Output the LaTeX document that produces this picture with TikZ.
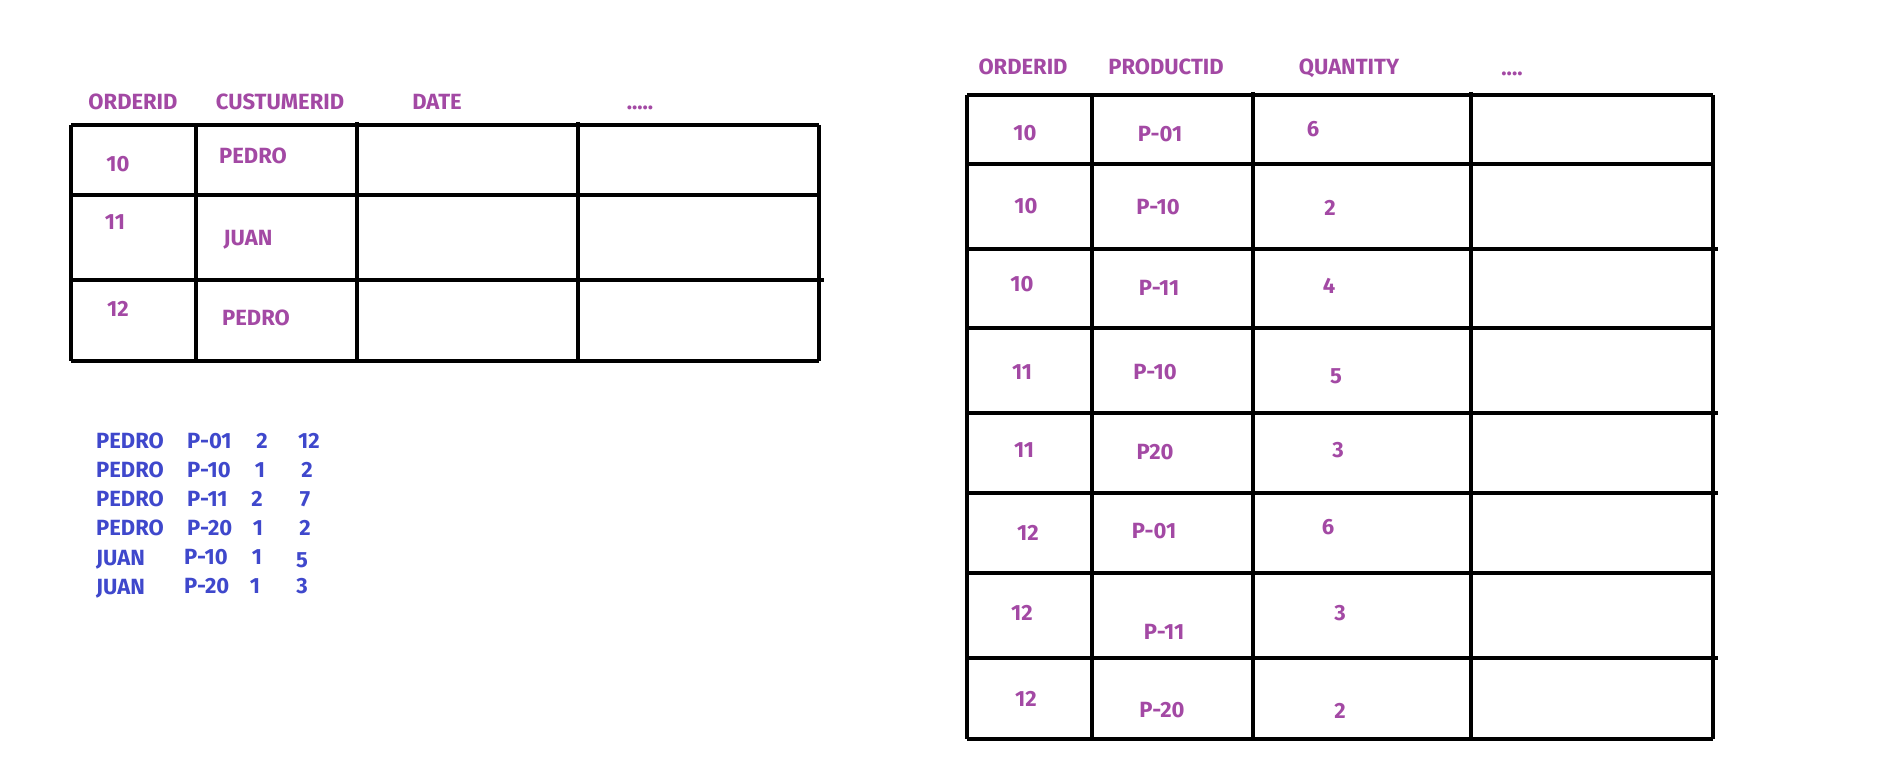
\documentclass[tikz,border=0pt]{standalone}
\usepackage{fontspec}
\setmainfont{Fira Sans}
\definecolor{ppurple}{RGB}{163,73,164}
\definecolor{pblue}{RGB}{63,72,204}
\tikzset{
  grid/.style={line width=3.4pt, black},
  txt/.style={inner sep=0pt, font=\bfseries\fontsize{22}{26}\selectfont, text=ppurple},
  btxt/.style={inner sep=0pt, font=\bfseries\fontsize{22}{26}\selectfont, text=pblue},
}
\begin{document}
\begin{tikzpicture}[x=1pt,y=-1pt]
\useasboundingbox (0,0) rectangle (1881,770);
\fill[white] (0,0) rectangle (1881,770);
% ---------- left table ----------
\draw[grid] (71,125) -- (819,125);
\draw[grid] (71,195) -- (819,195);
\draw[grid] (71,280) -- (824,280);
\draw[grid] (71,361) -- (819,361);
\draw[grid] (71,125) -- (71,361);
\draw[grid] (196,125) -- (196,361);
\draw[grid] (357,122) -- (357,361);
\draw[grid] (578,122) -- (578,361);
\draw[grid] (819,125) -- (819,361);
\node[txt, anchor=base] (lh1) at (133,110) {ORDERID};
\node[txt, anchor=base] (lh2) at (280,110) {CUSTUMERID};
\node[txt, anchor=base] (lh3) at (437,110) {DATE};
\node[txt, anchor=base] (lh4) at (640,110) {.....};
\node[txt] (l11) at (118,164) {10};
\node[txt] (l12) at (253,156) {PEDRO};
\node[txt] (l21) at (115,222) {11};
\node[txt, anchor=base] (l22) at (248,245) {JUAN};
\node[txt] (l31) at (118,309) {12};
\node[txt] (l32) at (256,318) {PEDRO};
% ---------- right table ----------
\foreach \yy in {95,164,328,573,739} \draw[grid] (967,\yy) -- (1713,\yy);
\foreach \yy in {249,413,493,658} \draw[grid] (967,\yy) -- (1718,\yy);
\draw[grid] (967,95) -- (967,739);
\draw[grid] (1092,95) -- (1092,739);
\draw[grid] (1253,92) -- (1253,739);
\draw[grid] (1471,92) -- (1471,739);
\draw[grid] (1713,95) -- (1713,739);
\node[txt, anchor=base] (rh1) at (1023,75) {ORDERID};
\node[txt, anchor=base] (rh2) at (1166,75) {PRODUCTID};
\node[txt, anchor=base] (rh3) at (1349,75) {QUANTITY};
\node[txt, anchor=base] (rh4) at (1512,76) {....};
\node[txt] (r11) at (1025,133) {10};
\node[txt] (r12) at (1160,134) {P-01};
\node[txt] (r13) at (1313,129) {6};
\node[txt] (r21) at (1026,206) {10};
\node[txt] (r22) at (1158,207) {P-10};
\node[txt] (r23) at (1330,208) {2};
\node[txt] (r31) at (1022,284) {10};
\node[txt] (r32) at (1159,288) {P-11};
\node[txt] (r33) at (1329,286) {4};
\node[txt] (r41) at (1022,372) {11};
\node[txt] (r42) at (1155,372) {P-10};
\node[txt] (r43) at (1336,376) {5};
\node[txt] (r51) at (1024,450) {11};
\node[txt] (r52) at (1155,452) {P20};
\node[txt] (r53) at (1338,450) {3};
\node[txt] (r61) at (1028,533) {12};
\node[txt] (r62) at (1154,531) {P-01};
\node[txt] (r63) at (1328,527) {6};
\node[txt] (r71) at (1022,613) {12};
\node[txt] (r72) at (1164,632) {P-11};
\node[txt] (r73) at (1340,613) {3};
\node[txt] (r81) at (1026,699) {12};
\node[txt] (r82) at (1162,710) {P-20};
\node[txt] (r83) at (1340,711) {2};
% ---------- blue list ----------
\node[btxt, anchor=west] (b11) at (96,441) {PEDRO};
\node[btxt, anchor=west] (b12) at (187,441) {P-01};
\node[btxt] (b13) at (262,441) {2};
\node[btxt] (b14) at (309,441) {12};
\node[btxt, anchor=west] (b21) at (96,470) {PEDRO};
\node[btxt, anchor=west] (b22) at (187,470) {P-10};
\node[btxt] (b23) at (260,470) {1};
\node[btxt] (b24) at (307,470) {2};
\node[btxt, anchor=west] (b31) at (96,499) {PEDRO};
\node[btxt, anchor=west] (b32) at (187,499) {P-11};
\node[btxt] (b33) at (257,499) {2};
\node[btxt] (b34) at (305,499) {7};
\node[btxt, anchor=west] (b41) at (96,528) {PEDRO};
\node[btxt, anchor=west] (b42) at (187,528) {P-20};
\node[btxt] (b43) at (258,528) {1};
\node[btxt] (b44) at (305,528) {2};
\node[btxt, anchor=base west] (b51) at (96,565) {JUAN};
\node[btxt, anchor=west] (b52) at (184,557) {P-10};
\node[btxt] (b53) at (257,557) {1};
\node[btxt] (b54) at (302,560) {5};
\node[btxt, anchor=base west] (b61) at (96,594) {JUAN};
\node[btxt, anchor=west] (b62) at (184,586) {P-20};
\node[btxt] (b63) at (255,586) {1};
\node[btxt] (b64) at (302,586) {3};
\end{tikzpicture}
\end{document}
